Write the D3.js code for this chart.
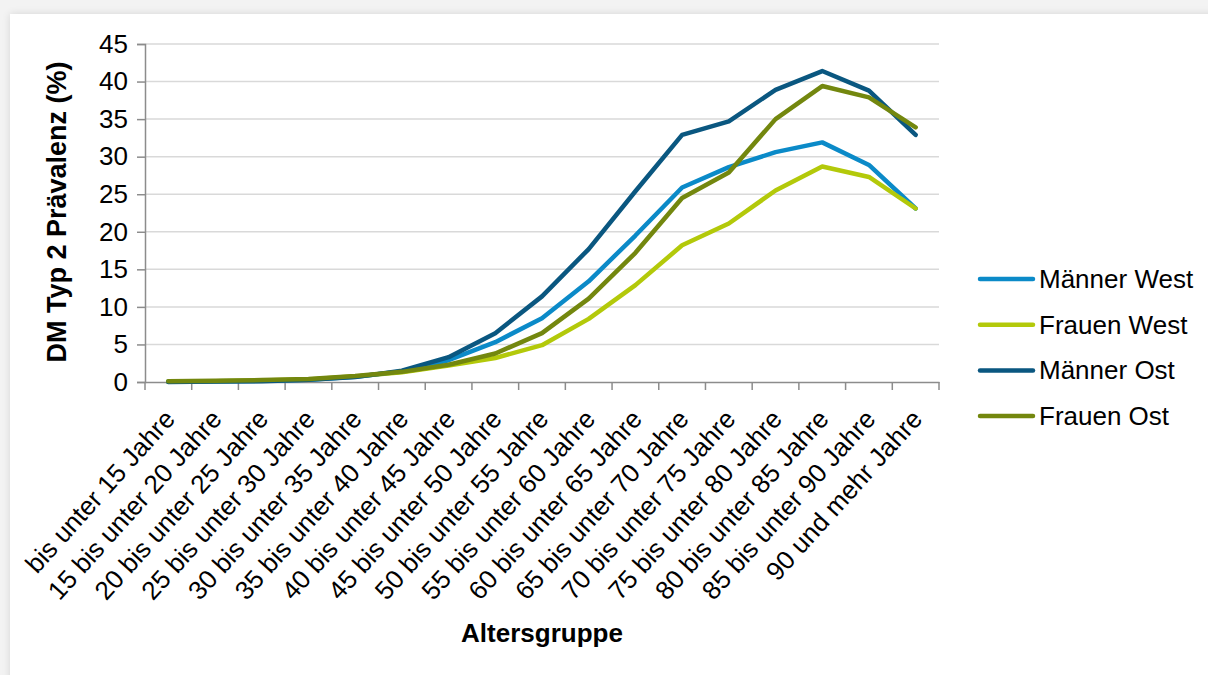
<!DOCTYPE html>
<html>
<head>
<meta charset="utf-8">
<script src="https://cdn.jsdelivr.net/npm/d3@7"></script>
<style>
  html, body { margin: 0; padding: 0; background: #f3f3f3; }
  body { width: 1208px; height: 675px; overflow: hidden; position: relative; }
  #card { position: absolute; left: 10px; top: 14px; width: 1210px; height: 680px; background: #fff;
          box-shadow: 0 0 8px rgba(0,0,0,0.12); }
  svg { position: absolute; left: 0; top: 0; }
  text { font-family: "Liberation Sans", Arial, sans-serif; fill: #000; }
</style>
</head>
<body>
<div id="card"></div>
<script>
const categories = [
  "bis unter 15 Jahre", "15 bis unter 20 Jahre", "20 bis unter 25 Jahre", "25 bis unter 30 Jahre",
  "30 bis unter 35 Jahre", "35 bis unter 40 Jahre", "40 bis unter 45 Jahre", "45 bis unter 50 Jahre",
  "50 bis unter 55 Jahre", "55 bis unter 60 Jahre", "60 bis unter 65 Jahre", "65 bis unter 70 Jahre",
  "70 bis unter 75 Jahre", "75 bis unter 80 Jahre", "80 bis unter 85 Jahre", "85 bis unter 90 Jahre",
  "90 und mehr Jahre"
];
const maennerWest = [0.05, 0.1, 0.15, 0.3, 0.7, 1.4, 2.9, 5.3, 8.5, 13.4, 19.5, 25.9, 28.6, 30.6, 31.9, 28.9, 23.1];
const frauenWest  = [0.05, 0.1, 0.2, 0.35, 0.75, 1.3, 2.2, 3.2, 4.9, 8.4, 12.9, 18.2, 21.1, 25.5, 28.7, 27.3, 23.1];
const maennerOst  = [0.0, 0.05, 0.1, 0.3, 0.65, 1.5, 3.3, 6.5, 11.4, 17.7, 25.4, 32.9, 34.7, 38.9, 41.4, 38.8, 32.9];
const frauenOst   = [0.1, 0.15, 0.25, 0.4, 0.8, 1.35, 2.3, 3.8, 6.5, 11.1, 17.2, 24.5, 27.9, 35.0, 39.4, 37.9, 33.9];
const seriesNames = ["Männer West", "Frauen West", "Männer Ost", "Frauen Ost"];
const seriesColors = ["#0b8ac8", "#b3c90a", "#0a5780", "#73870e"];
const yTicks = [0, 5, 10, 15, 20, 25, 30, 35, 40, 45];
const xTitle = "Altersgruppe";
const yTitle = "DM Typ 2 Prävalenz (%)";

const series = [maennerWest, frauenWest, maennerOst, frauenOst];

const W = 1208, H = 675;
const pL = 145, pR = 939, pT = 44, pB = 382;

const svg = d3.select("body").append("svg").attr("width", W).attr("height", H);

const x = d3.scaleBand().domain(categories).range([pL, pR]).padding(0);
const y = d3.scaleLinear().domain([0, 45]).range([pB, pT]);

// gridlines
svg.append("g").selectAll("line").data(yTicks.filter(d => d > 0)).join("line")
  .attr("x1", pL).attr("x2", pR)
  .attr("y1", d => y(d)).attr("y2", d => y(d))
  .attr("stroke", "#d9d9d9").attr("stroke-width", 1.5);

// y axis
const yAxis = svg.append("g").attr("transform", `translate(${pL},0)`)
  .call(d3.axisLeft(y).tickValues(yTicks).tickSize(8).tickPadding(9));
yAxis.select(".domain").attr("stroke", "#8c8c8c").attr("stroke-width", 1.5);
yAxis.selectAll(".tick line").attr("stroke", "#8c8c8c").attr("stroke-width", 1.5);
yAxis.selectAll(".tick text").style("font-family", "Liberation Sans, Arial, sans-serif")
  .style("font-size", "26px").attr("fill", "#000");

// x axis (labels via axis, boundary ticks from scale)
const xAxis = svg.append("g").attr("transform", `translate(0,${pB})`)
  .call(d3.axisBottom(x).tickSize(0).tickSizeOuter(0));
xAxis.select(".domain").attr("stroke", "#8c8c8c").attr("stroke-width", 1.5);
xAxis.selectAll(".tick text")
  .style("font-family", "Liberation Sans, Arial, sans-serif")
  .style("font-size", "26px").attr("fill", "#000")
  .attr("text-anchor", "end")
  .attr("dy", null).attr("y", 0)
  .attr("transform", "translate(8,38) rotate(-48)");
const bounds = categories.map(c => x(c)).concat([x(categories[categories.length - 1]) + x.bandwidth()]);
xAxis.append("g").selectAll("line").data(bounds).join("line")
  .attr("x1", d => d).attr("x2", d => d).attr("y1", 0).attr("y2", 8)
  .attr("stroke", "#8c8c8c").attr("stroke-width", 1.5);

// lines
const line = d3.line()
  .x((d, i) => x(categories[i]) + x.bandwidth() / 2)
  .y(d => y(d));
series.forEach((s, k) => {
  svg.append("path").datum(s)
    .attr("d", line)
    .attr("fill", "none")
    .attr("stroke", seriesColors[k])
    .attr("stroke-width", 4.5)
    .attr("stroke-linejoin", "round")
    .attr("stroke-linecap", "round");
});

// axis titles
svg.append("text").attr("x", 542).attr("y", 642)
  .attr("text-anchor", "middle").style("font-size", "26px").style("font-weight", "bold")
  .text(xTitle);
svg.append("text").attr("transform", "translate(66,212) rotate(-90)")
  .attr("text-anchor", "middle").style("font-size", "27px").style("font-weight", "bold")
  .text(yTitle);

// legend
const lg = svg.append("g");
seriesNames.forEach((n, k) => {
  const yy = 279 + k * 45.7;
  lg.append("line").attr("x1", 980).attr("x2", 1033).attr("y1", yy).attr("y2", yy)
    .attr("stroke", seriesColors[k]).attr("stroke-width", 4.5).attr("stroke-linecap", "round");
  lg.append("text").attr("x", 1039).attr("y", yy + 9).style("font-size", "26px").text(n);
});
</script>
</body>
</html>
